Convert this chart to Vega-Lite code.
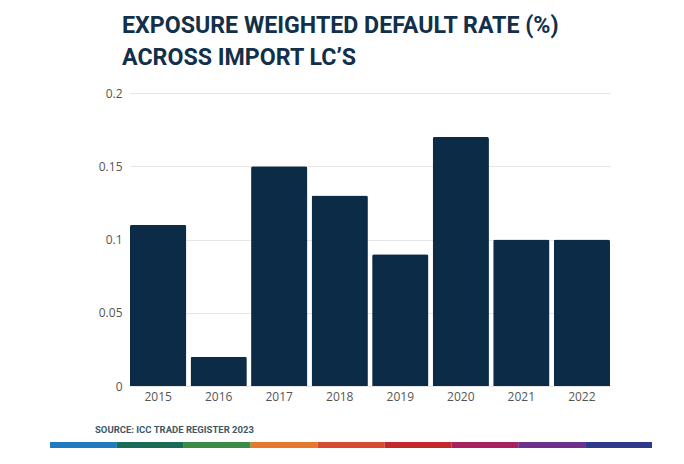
{
  "$schema": "https://vega.github.io/schema/vega-lite/v6.json",
  "background": "white",
  "padding": {"left": 50, "top": 13, "right": 32, "bottom": 15},
  "title": {
    "text": ["EXPOSURE WEIGHTED DEFAULT RATE (%)", "ACROSS IMPORT LC’S"],
    "anchor": "start",
    "dx": 72,
    "font": "Roboto",
    "fontSize": 23.2,
    "fontWeight": "bold",
    "color": "#12304a",
    "lineHeight": 32,
    "offset": 17
  },
  "config": {"view": {"stroke": null}, "concat": {"spacing": 22}},
  "vconcat": [
    {
      "width": 480,
      "height": 293,
      "data": {
        "values": [
          {"year": "2015", "rate": 0.11},
          {"year": "2016", "rate": 0.02},
          {"year": "2017", "rate": 0.15},
          {"year": "2018", "rate": 0.13},
          {"year": "2019", "rate": 0.09},
          {"year": "2020", "rate": 0.17},
          {"year": "2021", "rate": 0.10},
          {"year": "2022", "rate": 0.10}
        ]
      },
      "mark": {"type": "bar", "color": "#0c2b47", "cornerRadiusTopLeft": 2, "cornerRadiusTopRight": 2},
      "encoding": {
        "x": {
          "field": "year", "type": "ordinal",
          "scale": {"paddingInner": 0.07, "paddingOuter": 0.0},
          "axis": {"title": null, "labelAngle": 0, "ticks": false, "domain": false, "labelPadding": 5, "labelFont": "Open Sans", "labelFontSize": 12, "labelColor": "#555555"}
        },
        "y": {
          "field": "rate", "type": "quantitative",
          "scale": {"domain": [0, 0.2], "nice": false},
          "axis": {"title": null, "values": [0, 0.05, 0.1, 0.15, 0.2], "format": "~g", "ticks": false, "domain": false, "labelPadding": 8, "minExtent": 80, "maxExtent": 80, "gridColor": "#e6e6e6", "labelFont": "Open Sans", "labelFontSize": 12, "labelColor": "#555555"}
        }
      }
    },
    {
      "width": 522,
      "height": 6,
      "title": {
        "text": "SOURCE: ICC TRADE REGISTER 2023",
        "anchor": "start",
        "dx": 45,
        "font": "Roboto",
        "fontSize": 9.5,
        "fontWeight": "bold",
        "color": "#3d5868",
        "offset": 8
      },
      "data": {
        "values": [
          {"seg": "a"}, {"seg": "b"}, {"seg": "c"}, {"seg": "d"}, {"seg": "e"},
          {"seg": "f"}, {"seg": "g"}, {"seg": "h"}, {"seg": "i"}
        ]
      },
      "mark": {"type": "rect"},
      "encoding": {
        "x": {"field": "seg", "type": "nominal", "scale": {"type": "band", "paddingInner": 0, "paddingOuter": 0, "range": [-80, 522]}, "axis": null},
        "color": {
          "field": "seg", "type": "nominal", "legend": null,
          "scale": {"domain": ["a","b","c","d","e","f","g","h","i"], "range": ["#1f7ac0", "#186b55", "#3b8b47", "#e6782e", "#d64a2f", "#c3282c", "#a8205e", "#6c2f8c", "#2d3a8a"]}
        }
      }
    }
  ]
}
